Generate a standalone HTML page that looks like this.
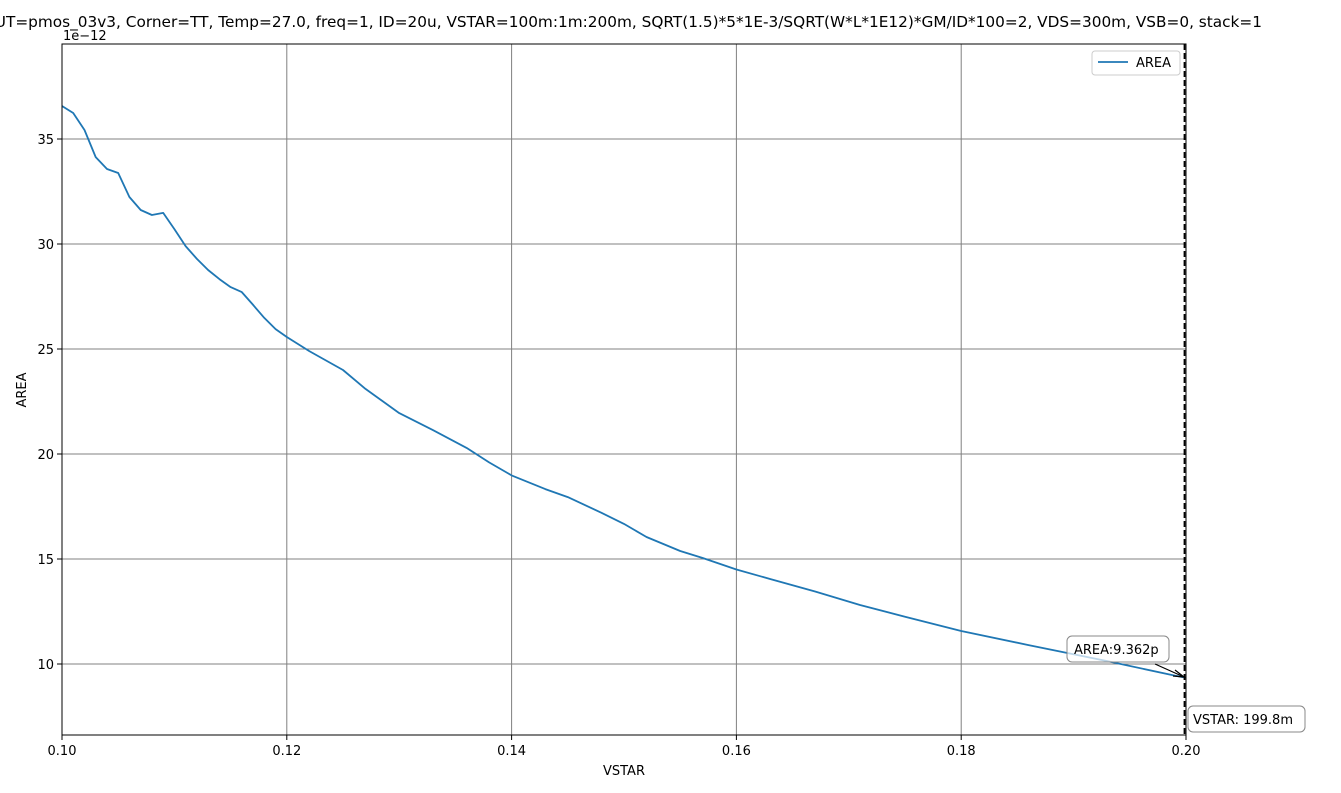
<!DOCTYPE html>
<html><head><meta charset="utf-8"><style>
html,body{margin:0;padding:0;background:#fff;overflow:hidden;}
svg{display:block;font-family:"DejaVu Sans","Liberation Sans",sans-serif;}
</style></head><body>
<svg id="chart" width="1341" height="793" viewBox="0 0 1341 793" xmlns="http://www.w3.org/2000/svg">
<text x="-17" y="27" font-size="15" textLength="1279" lengthAdjust="spacingAndGlyphs">DUT=pmos_03v3, Corner=TT, Temp=27.0, freq=1, ID=20u, VSTAR=100m:1m:200m, SQRT(1.5)*5*1E-3/SQRT(W*L*1E12)*GM/ID*100=2, VDS=300m, VSB=0, stack=1</text>
<g id="grid"></g>
<g id="ticks"></g>
<path id="line" fill="none" stroke="#1f77b4" stroke-width="1.8" stroke-linejoin="round"/>
<rect x="62" y="44" width="1124" height="691" fill="none" stroke="#000" stroke-width="1"/>
<line x1="1184.5" y1="44" x2="1184.5" y2="735" stroke="#000" stroke-width="1.8" stroke-dasharray="6,3"/>
<text x="63" y="40" font-size="13">1e−12</text>
<text x="624" y="775" font-size="13" text-anchor="middle">VSTAR</text>
<text x="26" y="390" font-size="13" text-anchor="middle" transform="rotate(-90 26 390)">AREA</text>
<g>
<rect x="1092" y="51" width="88" height="24" rx="3" fill="#fff" fill-opacity="0.8" stroke="#ccc"/>
<line x1="1098" y1="62" x2="1128" y2="62" stroke="#1f77b4" stroke-width="1.8"/>
<text x="1136" y="67" font-size="13">AREA</text>
</g>
<g>
<line x1="1155" y1="664" x2="1184" y2="677" stroke="#000" stroke-width="1.2"/>
<path d="M1175,670 L1184,677 L1173,676" fill="none" stroke="#000" stroke-width="1.2"/>
<rect x="1067" y="636" width="102" height="26" rx="5" fill="#fff" fill-opacity="0.7" stroke="#888"/>
<text x="1074" y="654" font-size="13">AREA:9.362p</text>
</g>
<g>
<rect x="1188" y="706" width="117" height="26" rx="5" fill="#fff" stroke="#888"/>
<text x="1193" y="724" font-size="13">VSTAR: 199.8m</text>
</g>
</svg>
<script>
const vstar=[0.100,0.101,0.102,0.103,0.104,0.105,0.106,0.107,0.108,0.109,0.110,0.111,0.112,0.113,0.114,0.115,0.116,0.117,0.118,0.119,0.120,0.122,0.125,0.127,0.130,0.133,0.136,0.138,0.140,0.143,0.145,0.148,0.150,0.152,0.155,0.157,0.160,0.163,0.167,0.171,0.175,0.180,0.186,0.193,0.199,0.1998];
const area=[36.57,36.24,35.43,34.14,33.57,33.38,32.24,31.62,31.38,31.48,30.71,29.9,29.29,28.76,28.33,27.95,27.71,27.1,26.48,25.95,25.57,24.9,24.0,23.1,21.95,21.14,20.29,19.6,18.98,18.33,17.95,17.2,16.67,16.05,15.38,15.05,14.5,14.05,13.45,12.81,12.25,11.57,10.9,10.14,9.45,9.362];
const xTicks=[0.10,0.12,0.14,0.16,0.18,0.20];
const xTickLabels=["0.10","0.12","0.14","0.16","0.18","0.20"];
const yTicks=[10,15,20,25,30,35];
const yTickLabels=["10","15","20","25","30","35"];
const X=v=>62+(v-0.10)/0.10*1124;
const Y=v=>664-(v-10)*21;
const NS="http://www.w3.org/2000/svg";
const grid=document.getElementById('grid'),ticks=document.getElementById('ticks');
function mk(tag,attrs,parent){const e=document.createElementNS(NS,tag);for(const k in attrs)e.setAttribute(k,attrs[k]);parent.appendChild(e);return e;}
xTicks.forEach((t,i)=>{const x=X(t);
 const g=mk('line',{x1:x,y1:44,x2:x,y2:735,stroke:'#808080','stroke-width':1},grid);
 
 
 mk('line',{x1:x,y1:735,x2:x,y2:740,stroke:'#000'},ticks);
 const tx=mk('text',{x:x,y:755,'font-size':13,'text-anchor':'middle'},ticks);tx.textContent=xTickLabels[i];
 
 
});
yTicks.forEach((t,i)=>{const y=Y(t);
 const g=mk('line',{x1:62,y1:y,x2:1186,y2:y,stroke:'#808080','stroke-width':1},grid);
 
 
 mk('line',{x1:57,y1:y,x2:62,y2:y,stroke:'#000'},ticks);
 const tx=mk('text',{x:54,y:y+5,'font-size':13,'text-anchor':'end'},ticks);tx.textContent=yTickLabels[i];
 
 
});
document.getElementById('line').setAttribute('d',vstar.map((v,i)=>(i?'L':'M')+X(v).toFixed(1)+','+Y(area[i]).toFixed(1)).join(' '));
</script>
</body></html>
